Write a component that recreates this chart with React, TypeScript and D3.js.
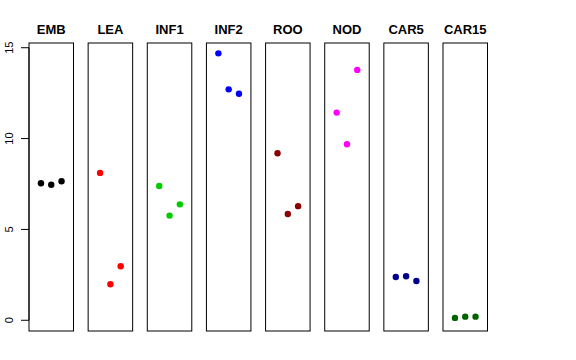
import React from "react";
import * as d3 from "d3";

const categories = ["EMB", "LEA", "INF1", "INF2", "ROO", "NOD", "CAR5", "CAR15"];
const colors = ["#000000", "#FF0000", "#00CD00", "#0000FF", "#8B0000", "#FF00FF", "#00008B", "#006400"];
const rep1 = [7.54, 8.11, 7.39, 14.69, 9.19, 11.43, 2.38, 0.13];
const rep2 = [7.46, 1.98, 5.76, 12.71, 5.85, 9.69, 2.42, 0.2];
const rep3 = [7.65, 2.97, 6.38, 12.47, 6.28, 13.78, 2.16, 0.2];
const yTicks = [0, 5, 10, 15];

const W = 576;
const H = 360;
const top = 43;
const bottom = 331;
const left = 29;
const right = 487.5;

export default function App() {
  const band = d3
    .scaleBand<string>()
    .domain(categories)
    .range([left, right])
    .paddingInner(0.2475)
    .paddingOuter(0);
  const y = d3.scaleLinear().domain([-0.59, 15.26]).range([bottom, top]);
  const xIn = d3.scaleLinear().domain([-0.16, 4.16]).range([0, band.bandwidth()]);
  const reps = [rep1, rep2, rep3];

  return (
    <div style={{ position: "absolute", left: 0, top: 0 }}>
      <svg width={W} height={H} style={{ display: "block", fontFamily: "'Liberation Sans', Arial, sans-serif" }}>
        <rect x={0} y={0} width={W} height={H} fill="#fff" />
        {/* y axis */}
        <line x1={left} x2={left} y1={y(0)} y2={y(15)} stroke="#000" />
        {yTicks.map((t) => (
          <g key={t}>
            <line x1={left - 8} x2={left} y1={y(t)} y2={y(t)} stroke="#000" />
            <text
              transform={`translate(${13},${y(t)}) rotate(-90)`}
              textAnchor="middle"
              fontSize={11}
              fill="#000"
            >
              {t}
            </text>
          </g>
        ))}
        {categories.map((c, i) => {
          const x0 = band(c)!;
          return (
            <g key={c}>
              <rect
                x={x0}
                y={top}
                width={band.bandwidth()}
                height={bottom - top}
                fill="none"
                stroke="#000"
              />
              <text
                x={x0 + band.bandwidth() / 2}
                y={33.5}
                textAnchor="middle"
                fontSize={13}
                fontWeight="bold"
                fill="#000"
              >
                {c}
              </text>
              {reps.map((r, j) => (
                <circle key={j} cx={x0 + xIn(j + 1)} cy={y(r[i])} r={3.2} fill={colors[i]} />
              ))}
            </g>
          );
        })}
      </svg>
    </div>
  );
}
